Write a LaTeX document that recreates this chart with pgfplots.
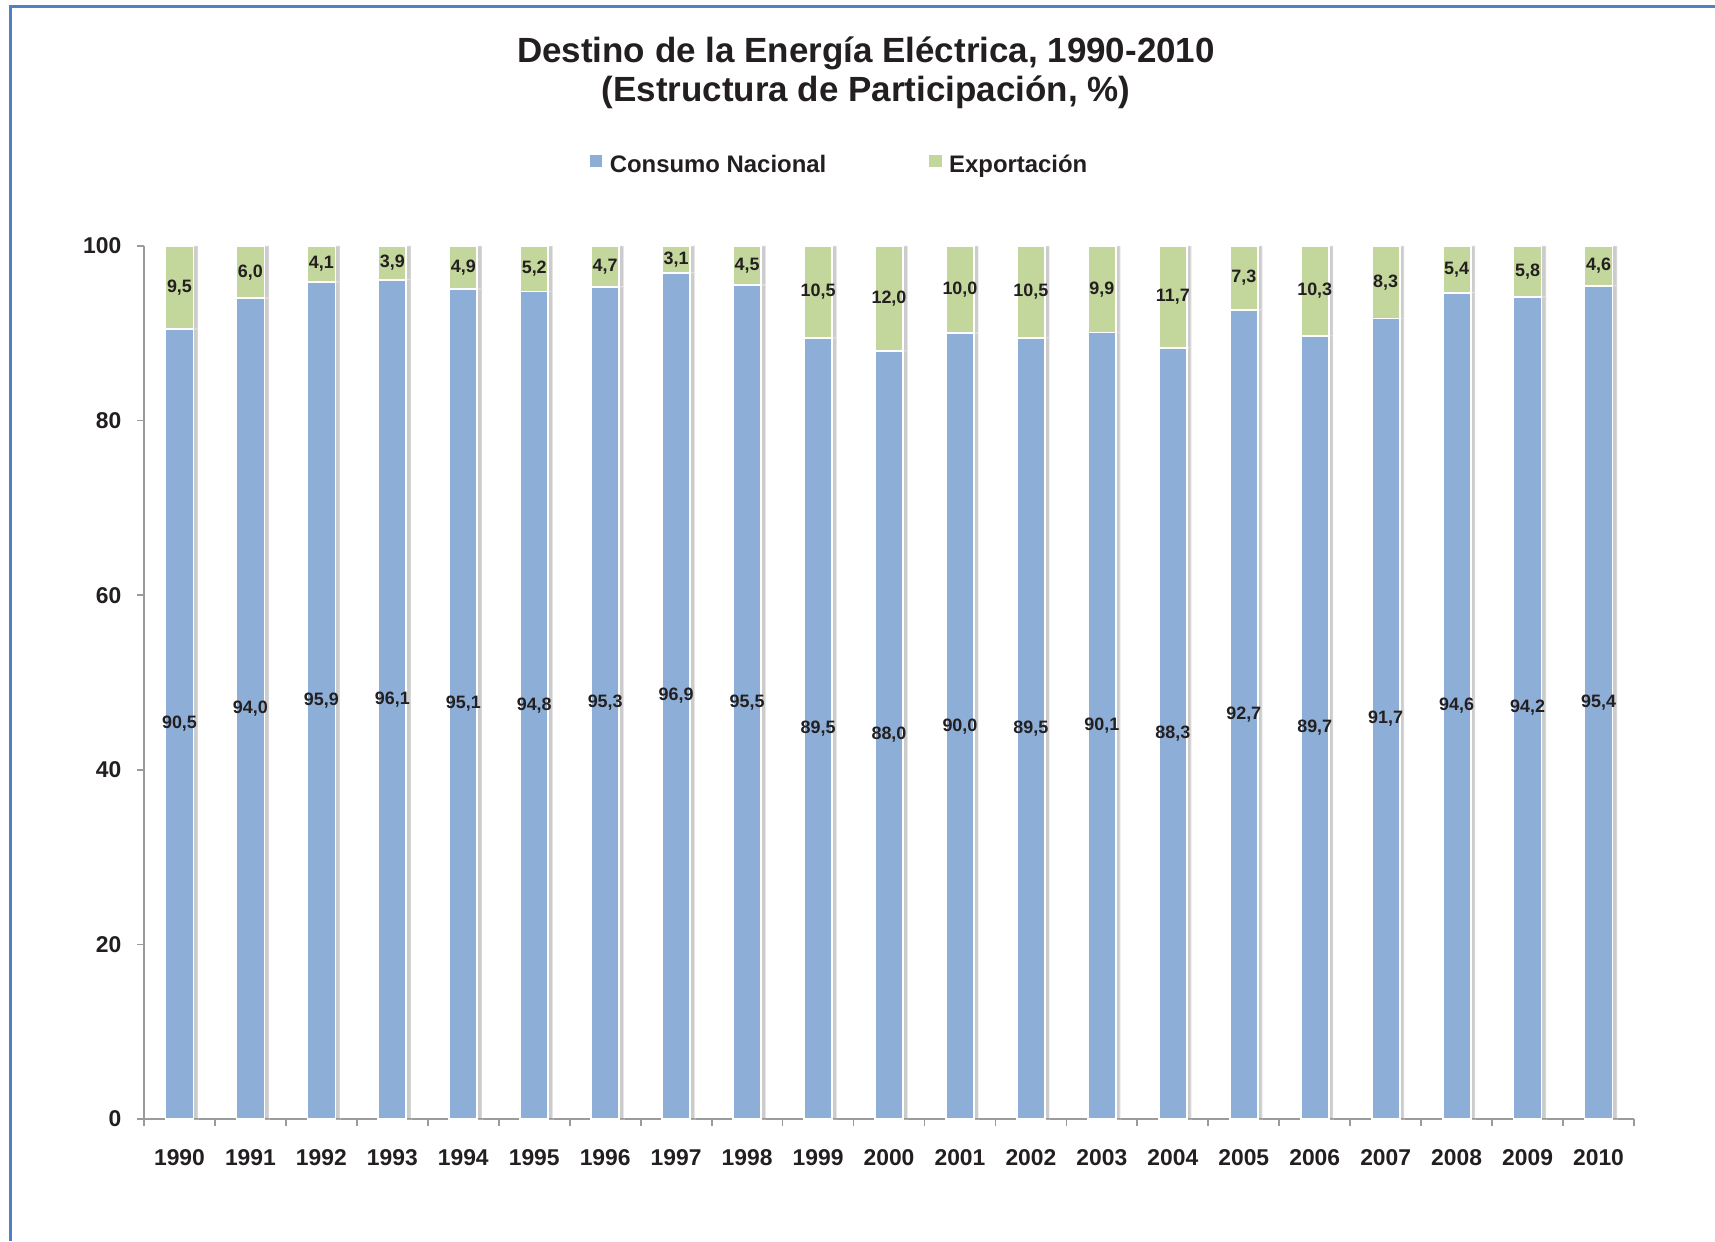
\documentclass[border=0pt]{standalone}
\usepackage{fontspec}
\setmainfont{Liberation Sans}
\usepackage{pgfplots}
\pgfplotsset{compat=1.18}
\usepackage{pgfplotstable}
\usetikzlibrary{shadows}
\definecolor{cblue}{RGB}{141,174,214}
\definecolor{cgreen}{RGB}{195,214,155}
\definecolor{frameblue}{RGB}{79,129,199}
\definecolor{axgray}{RGB}{155,155,155}
\definecolor{txt}{RGB}{35,31,32}

\pgfplotstableread{
idx year cons exp
0 1990 90.5 9.5
1 1991 94.0 6.0
2 1992 95.9 4.1
3 1993 96.1 3.9
4 1994 95.1 4.9
5 1995 94.8 5.2
6 1996 95.3 4.7
7 1997 96.9 3.1
8 1998 95.5 4.5
9 1999 89.5 10.5
10 2000 88.0 12.0
11 2001 90.0 10.0
12 2002 89.5 10.5
13 2003 90.1 9.9
14 2004 88.3 11.7
15 2005 92.7 7.3
16 2006 89.7 10.3
17 2007 91.7 8.3
18 2008 94.6 5.4
19 2009 94.2 5.8
20 2010 95.4 4.6
}\datatable

\pgfplotsset{
  geom/.style={
    scale only axis,
    width=149.0mm, height=87.3mm,
    at={(14.4mm,12.2mm)}, anchor=south west,
    xmin=-0.5, xmax=20.5, ymin=0, ymax=100,
  },
}

\begin{document}
\begin{tikzpicture}
\useasboundingbox (0,0) rectangle (171.5mm,124.1mm);
\draw[frameblue, line width=0.22mm] (1.05mm,0) -- (1.05mm,123.45mm) -- (171.5mm,123.45mm);

\node[anchor=base, inner sep=0pt, text=txt, font=\fontsize{9.95}{11}\selectfont\bfseries]
  at (86.6mm,117.8mm) {Destino de la Energía Eléctrica, 1990-2010};
\node[anchor=base, inner sep=0pt, text=txt, font=\fontsize{9.95}{11}\selectfont\bfseries]
  at (86.6mm,113.9mm) {(Estructura de Participación, \%)};

\begin{axis}[
  geom,
  ybar stacked, bar width=2.8mm,
  axis lines*=left,
  axis line style={axgray, line width=0.5pt},
  tick align=outside,
  tick pos=left,
  xtick={0,...,20},
  xticklabels={1990,1991,1992,1993,1994,1995,1996,1997,1998,1999,2000,2001,2002,2003,2004,2005,2006,2007,2008,2009,2010},
  minor xtick={-0.5,0.5,...,20.5},
  major x tick style={draw=none},
  minor x tick style={axgray, line width=0.5pt},
  minor tick length=0.7mm,
  ytick={0,20,40,60,80,100},
  major y tick style={axgray, line width=0.5pt},
  major tick length=0.7mm,
  /pgf/number format/assume math mode=true,
  xticklabel style={anchor=north, inner sep=0pt, yshift=-2.3mm, text=txt, font=\fontsize{6.5}{7}\selectfont\bfseries},
  yticklabel style={anchor=east, inner sep=0pt, xshift=-1.5mm, text=txt, font=\fontsize{6.5}{7}\selectfont\bfseries},
  legend columns=2,
  legend style={draw=none, fill=none, inner sep=0pt, outer sep=0pt,
    at={(0.2993,1.0915)}, anchor=west,
    nodes={inner sep=0pt, anchor=base west, text=txt, font=\fontsize{6.8}{8}\selectfont\bfseries},
    /tikz/every odd column/.style={column sep=0.75mm},
    /tikz/every even column/.style={column sep=10.3mm}},
  clip=false,
]
\addplot[forget plot, fill=cblue, draw=white, line width=0.5pt,
  drop shadow={shadow xshift=0.45mm, shadow yshift=0mm, opacity=0.2, fill=black}]
  table[x=idx, y=cons] {\datatable};
\addplot[forget plot, fill=cgreen, draw=white, line width=0.5pt,
  drop shadow={shadow xshift=0.45mm, shadow yshift=0mm, opacity=0.2, fill=black}]
  table[x=idx, y=exp] {\datatable};
\addlegendimage{legend image code/.code={\fill[cblue] (0mm,0.6mm) rectangle (1.1mm,1.7mm);}}
\addlegendentry{Consumo Nacional}
\addlegendimage{legend image code/.code={\fill[cgreen] (0mm,0.6mm) rectangle (1.1mm,1.7mm);}}
\addlegendentry{Exportación}
\end{axis}

\begin{axis}[
  geom, hide axis,
  point meta=explicit,
  nodes near coords={\pgfmathprintnumber[use comma, fixed, fixed zerofill, precision=1, assume math mode=true]{\pgfplotspointmeta}},
  every node near coord/.append style={anchor=center, inner sep=0pt, text=txt, font=\fontsize{5.1}{6}\selectfont\bfseries},
]
\addplot[draw=none, mark=none] table[x=idx, y expr={\thisrow{cons}/2}, meta=cons] {\datatable};
\addplot[draw=none, mark=none] table[x=idx, y expr={\thisrow{cons}+\thisrow{exp}/2}, meta=exp] {\datatable};
\end{axis}
\end{tikzpicture}
\end{document}
